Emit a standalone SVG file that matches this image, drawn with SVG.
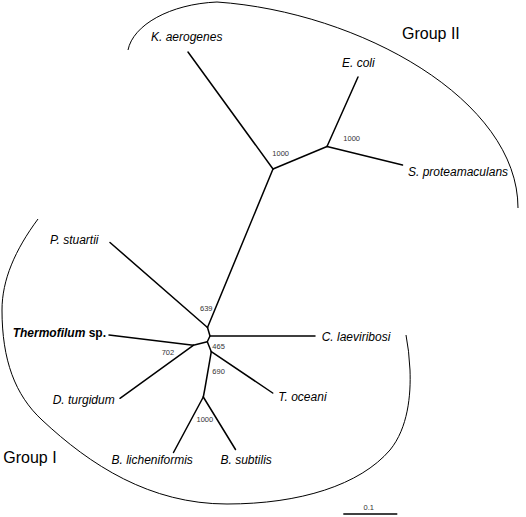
<svg xmlns="http://www.w3.org/2000/svg" width="526" height="517" viewBox="0 0 526 517">
<style>
.br{stroke:#000;stroke-width:1.5;fill:none;stroke-linecap:round;stroke-linejoin:round}
.arc{stroke:#000;stroke-width:1;fill:none}
.sp{font-family:"Liberation Sans",Arial,sans-serif;font-size:12px;font-style:italic;fill:#000}
.bs{font-family:"Liberation Sans",Arial,sans-serif;font-size:7.5px;fill:#333}
.grp{font-family:"Liberation Sans",Arial,sans-serif;font-size:16px;fill:#000}
</style>
<rect width="526" height="517" fill="#fff"/>
<g id="group-arcs">
<path class="arc" d="M128,50 C133,25 170,4 217,2 C360,12 518,100 518,208"/>
<path class="arc" d="M38,219 C15,250 2,280 2,310 C2,360 15,395 42,420 C90,465 150,504 227,504 C300,504 360,485 390,450 C408,428 411,395 410,370 Q409,350 406,335"/>
</g>
<g id="connectors">
<line class="br" x1="188" y1="52" x2="273" y2="169"/>
<line class="br" x1="273" y1="169" x2="327" y2="146.5"/>
<line class="br" x1="327" y1="146.5" x2="358" y2="77"/>
<line class="br" x1="327" y1="146.5" x2="402.5" y2="165"/>
<line class="br" x1="273" y1="169" x2="207.5" y2="327.5"/>
<line class="br" x1="110" y1="242.5" x2="207.5" y2="327.5"/>
<polyline class="br" points="207.5,327.5 210,336 207.3,341.7 211.3,351.7"/>
<line class="br" x1="210" y1="336" x2="315" y2="336"/>
<line class="br" x1="207.3" y1="341.7" x2="193.3" y2="345.3"/>
<line class="br" x1="109" y1="335" x2="193.3" y2="345.3"/>
<line class="br" x1="120" y1="398.3" x2="193.3" y2="345.3"/>
<line class="br" x1="211.3" y1="351.7" x2="272.7" y2="393"/>
<polyline class="br" points="211.3,351.7 205,388 203.3,397"/>
<line class="br" x1="203.3" y1="397" x2="173.5" y2="452.5"/>
<line class="br" x1="203.3" y1="397" x2="235.5" y2="449.5"/>
</g>
<g id="node-k-aerogenes"><text class="sp" x="151" y="41">K. aerogenes</text></g>
<g id="node-e-coli"><text class="sp" x="342" y="66.5">E. coli</text></g>
<g id="node-s-proteamaculans"><text class="sp" x="408" y="176">S. proteamaculans</text></g>
<g id="node-p-stuartii"><text class="sp" x="50" y="243.5">P. stuartii</text></g>
<g id="node-thermofilum"><text x="12.7" y="337.3" style="font-family:'Liberation Sans',Arial,sans-serif;font-size:12px;font-weight:bold;fill:#000"><tspan font-style="italic">Thermofilum</tspan> sp.</text></g>
<g id="node-c-laeviribosi"><text class="sp" x="321.7" y="340.5">C. laeviribosi</text></g>
<g id="node-d-turgidum"><text class="sp" x="52.7" y="404">D. turgidum</text></g>
<g id="node-t-oceani"><text class="sp" x="278.3" y="400.7">T. oceani</text></g>
<g id="node-b-licheniformis"><text class="sp" x="111.5" y="464">B. licheniformis</text></g>
<g id="node-b-subtilis"><text class="sp" x="220.5" y="464">B. subtilis</text></g>
<g id="bootstrap-labels">
<text class="bs" x="272.3" y="156">1000</text>
<text class="bs" x="343.3" y="140.5">1000</text>
<text class="bs" x="200" y="310.5">639</text>
<text class="bs" x="212.3" y="348.5">465</text>
<text class="bs" x="161.7" y="354.5">702</text>
<text class="bs" x="212.3" y="374">690</text>
<text class="bs" x="196.5" y="422">1000</text>
</g>
<g id="group-labels">
<text class="grp" x="402" y="39">Group II</text>
<text class="grp" x="3.3" y="463">Group I</text>
</g>
<g id="scale-bar">
<line x1="343.3" y1="514" x2="397.3" y2="514" stroke="#000" stroke-width="1.5"/>
<text class="bs" x="363.5" y="509.5">0.1</text>
</g>
</svg>
